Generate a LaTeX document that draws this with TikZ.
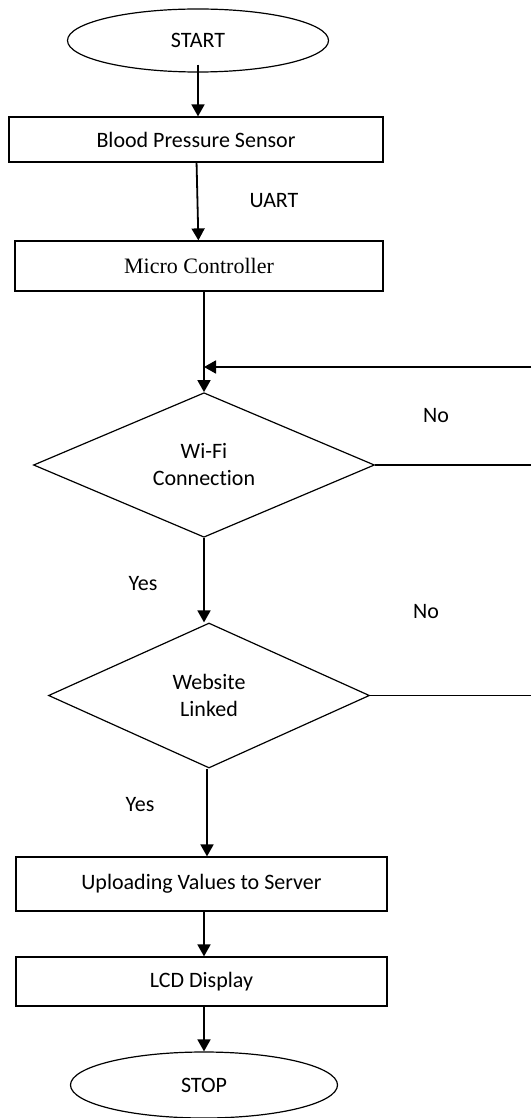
\documentclass[tikz,border=0pt]{standalone}
\usepackage{fontspec}
\setmainfont{Carlito}[Ligatures=NoCommon]
\newfontfamily\tnr{Liberation Serif}
\usetikzlibrary{shapes.geometric,arrows.meta}
\begin{document}
\begin{tikzpicture}[x=1pt,y=-1pt,
  every node/.style={font=\fontsize{22}{27}\selectfont},
  shp/.style={draw,line width=1.2pt,inner sep=0pt,align=center},
  procbox/.style={shp,rectangle},
  term/.style={shp,ellipse},
  decide/.style={shp,diamond},
  arr/.style={line width=1.8pt,-{Triangle[width=13pt,length=12pt]}},
  ln/.style={line width=1.5pt},
  lbl/.style={inner sep=0pt}]
\useasboundingbox (0,0) rectangle (531,1118);
\node[term,minimum width=261pt,minimum height=63pt] (start) at (198,40.5) {START};
\node[procbox,minimum width=374pt,minimum height=45pt] (bps) at (196,139.5) {Blood Pressure Sensor};
\node[procbox,minimum width=368pt,minimum height=50pt] (mc) at (199,266) {\tnr\fontsize{22}{26}\selectfont Micro Controller};
\node[decide,minimum width=341pt,minimum height=138pt] (wifi) at (204,465) {Wi-Fi\\Connection};
\node[decide,minimum width=321pt,minimum height=145pt] (web) at (209,695.5) {Website\\Linked};
\node[procbox,minimum width=371pt,minimum height=54pt] (up) at (201.5,884) {Uploading Values to Server};
\node[procbox,minimum width=371pt,minimum height=49pt] (lcd) at (201.5,981.5) {LCD Display};
\node[term,minimum width=267pt,minimum height=66pt] (stop) at (204,1085) {STOP};

\node[lbl] (uart) at (274,201) {UART};
\node[lbl] (no1) at (436,416) {No};
\node[lbl] (no2) at (426,612) {No};
\node[lbl] (yes1) at (143,584) {Yes};
\node[lbl] (yes2) at (140,805) {Yes};

\coordinate (edge) at (531,367);

\draw[arr] ([yshift=8pt]start.south) -- (start.south |- bps.north);
\draw[arr] (bps) -- (mc);
\draw[arr] (mc.south -| wifi.north) -- (wifi.north);
\draw[arr] (edge) -- (edge -| wifi.north);
\draw[ln] (wifi.east) -- (wifi.east -| edge);
\draw[arr] (wifi.south) -- (wifi.south |- web.north);
\draw[ln] (web.east) -- (web.east -| edge);
\draw[arr] ([xshift=-2pt]web.south) -- ([xshift=-2pt]web.south |- up.north);
\draw[arr] (up.south -| stop.north) -- (lcd.north -| stop.north);
\draw[arr] (lcd.south -| stop.north) -- (stop.north);
\end{tikzpicture}
\end{document}
